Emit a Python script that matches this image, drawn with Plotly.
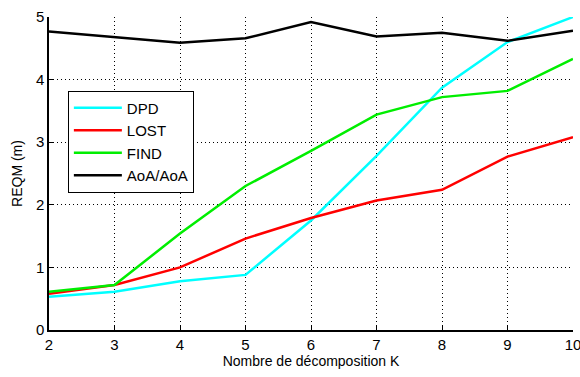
import plotly.graph_objects as go

k = [2, 3, 4, 5, 6, 7, 8, 9, 10]
dpd = [0.53, 0.61, 0.78, 0.88, 1.75, 2.78, 3.87, 4.60, 5.00]
lost = [0.58, 0.72, 1.00, 1.46, 1.79, 2.07, 2.24, 2.77, 3.08]
find = [0.61, 0.72, 1.54, 2.30, 2.86, 3.44, 3.72, 3.82, 4.33]
aoa = [4.77, 4.68, 4.59, 4.66, 4.92, 4.69, 4.75, 4.62, 4.78]

series = [("DPD", dpd, "#00ffff"), ("LOST", lost, "#ff0000"),
          ("FIND", find, "#00ee00"), ("AoA/AoA", aoa, "#000000")]

fig = go.Figure()
for name, vals, col in series:
    fig.add_trace(go.Scatter(x=k, y=vals, name=name, mode="lines",
                             line=dict(color=col, width=2.5)))

axis_common = dict(
    showgrid=True, gridcolor="black", griddash="1px,3px", gridwidth=1,
    showline=True, linecolor="black", linewidth=1.5,
    ticks="inside", ticklen=5, tickcolor="black",
    tickfont=dict(family="Liberation Sans, Arial", size=15, color="black"),
    zeroline=False, automargin=False, ticklabeloverflow="allow",
)

fig.update_layout(
    width=580, height=377,
    margin=dict(l=49, r=7, t=17, b=47),
    paper_bgcolor="white", plot_bgcolor="white",
    font=dict(family="Liberation Sans, Arial", size=14, color="black"),
    xaxis=dict(range=[2, 10], dtick=1,
               title=dict(text="Nombre de décomposition K", standoff=4,
                          font=dict(size=14)),
               **axis_common),
    yaxis=dict(range=[0, 5], dtick=1,
               title=dict(text="REQM (m)", standoff=10, font=dict(size=14)),
               **axis_common),
    legend=dict(x=0.036, y=0.765, xanchor="left", yanchor="top",
                bgcolor="white", bordercolor="black", borderwidth=1,
                font=dict(size=15), tracegroupgap=0, itemwidth=48),
    showlegend=True,
)

# the page body has a default 8px margin; remove it so the chart sits at 0,0
fig.write_html("out.html", post_script="document.body.style.margin='0';",
               config={"displayModeBar": False})
